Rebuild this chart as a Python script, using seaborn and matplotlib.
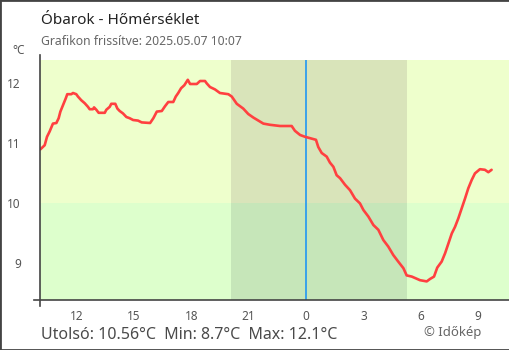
import matplotlib
matplotlib.use("Agg")
import matplotlib.pyplot as plt
from matplotlib.patches import Rectangle
import seaborn as sns
import pandas as pd

# Hours relative to midnight and measured temperature (°C)
hours = [-13.89, -13.66, -13.54, -13.40, -13.23, -13.05, -12.93, -12.84, -12.70, -12.56,
         -12.48, -12.27, -12.18, -12.01, -11.92, -11.75, -11.57, -11.40, -11.31, -11.14,
         -11.08, -10.96, -10.84, -10.52, -10.44, -10.26, -10.18, -9.97, -9.86, -9.74,
         -9.57, -9.39, -9.22, -9.04, -8.78, -8.59, -8.15, -7.98, -7.80, -7.54,
         -7.37, -7.20, -6.94, -6.81, -6.68, -6.53, -6.36, -6.18, -6.06, -5.71,
         -5.54, -5.28, -5.19, -5.02, -4.76, -4.50, -4.06, -3.88, -3.75, -3.62,
         -3.28, -3.02, -2.75, -2.49, -2.23, -1.88, -1.36, -0.75, -0.58, -0.31,
         -0.05, 0.52, 0.64, 0.82, 1.08, 1.25, 1.43, 1.60, 1.78, 2.04,
         2.30, 2.56, 2.82, 3.00, 3.26, 3.52, 3.78, 4.04, 4.30, 4.56,
         4.82, 5.09, 5.26, 5.53, 5.96, 6.31, 6.48, 6.69, 6.86, 7.09,
         7.27, 7.44, 7.62, 7.79, 7.96, 8.14, 8.31, 8.48, 8.66, 8.83,
         9.09, 9.35, 9.53, 9.70]
temps = [10.90, 10.97, 11.11, 11.20, 11.33, 11.34, 11.42, 11.53, 11.64, 11.75,
         11.82, 11.82, 11.84, 11.82, 11.78, 11.72, 11.67, 11.61, 11.57, 11.57,
         11.60, 11.56, 11.51, 11.51, 11.56, 11.61, 11.66, 11.66, 11.58, 11.54,
         11.50, 11.44, 11.42, 11.39, 11.38, 11.35, 11.34, 11.42, 11.53, 11.54,
         11.62, 11.69, 11.69, 11.78, 11.84, 11.92, 11.97, 12.06, 11.99, 11.99,
         12.04, 12.04, 12.00, 11.94, 11.90, 11.84, 11.82, 11.78, 11.72, 11.66,
         11.58, 11.49, 11.43, 11.38, 11.33, 11.31, 11.29, 11.29, 11.21, 11.14,
         11.11, 11.06, 10.94, 10.84, 10.78, 10.68, 10.61, 10.47, 10.42, 10.31,
         10.22, 10.08, 10.00, 9.89, 9.78, 9.64, 9.56, 9.39, 9.28, 9.14,
         9.03, 8.92, 8.80, 8.78, 8.72, 8.70, 8.74, 8.78, 8.93, 9.03,
         9.17, 9.33, 9.50, 9.61, 9.75, 9.92, 10.08, 10.25, 10.39, 10.50,
         10.57, 10.56, 10.52, 10.56]

tick_hours = [-12, -9, -6, -3, 0, 3, 6, 9]
tick_labels = ["12", "15", "18", "21", "0", "3", "6", "9"]
y_ticks = [9, 10, 11, 12]

sunset, sunrise = -3.92, 5.28
x_min, x_max = -13.89, 10.61
y_min, y_max = 8.39, 12.39
threshold = 10

sns.set_theme(style="white")
plt.rcParams["font.family"] = ["Noto Sans", "DejaVu Sans"]

fig = plt.figure(figsize=(5.1, 3.5), dpi=100)
ax = fig.add_axes([40.3 / 510, 50 / 350, (509 - 40.3) / 510, 240 / 350])
ax.set_xlim(x_min, x_max)
ax.set_ylim(y_min, y_max)

# Background bands: warm / cool halves, darker for night hours
ax.fill_between([x_min, x_max], threshold, y_max, color="#eeffcc", lw=0, zorder=0)
ax.fill_between([x_min, x_max], y_min, threshold, color="#ddffcc", lw=0, zorder=0)
ax.fill_between([sunset, sunrise], threshold, y_max, color="#d9e4ba", lw=0, zorder=0.5)
ax.fill_between([sunset, sunrise], y_min, threshold, color="#c6e6b9", lw=0, zorder=0.5)

ax.axvline(0, color="#2196f3", lw=1.2, zorder=1)

df = pd.DataFrame({"hour": hours, "temp": temps})
sns.lineplot(data=df, x="hour", y="temp", color="#ff4040", lw=1.9, ax=ax, zorder=2)

ax.set_xlabel("")
ax.set_ylabel("")
ax.set_xticks(tick_hours)
ax.set_xticklabels(tick_labels)
ax.set_yticks(y_ticks)
ax.set_yticklabels([str(v) for v in y_ticks])

for side in ("top", "right"):
    ax.spines[side].set_visible(False)
for side in ("left", "bottom"):
    ax.spines[side].set_color("#444444")
    ax.spines[side].set_linewidth(1.2)
ax.spines["left"].set_bounds(y_min - 6 / 60, y_max + 5 / 60)
ax.spines["bottom"].set_bounds(x_min - 6.3 / 19.13, x_max)

ax.tick_params(axis="both", direction="inout", length=12, width=1.2,
               color="#444444", labelcolor="#555555", labelsize=8.5)
ax.tick_params(axis="x", pad=1)
ax.tick_params(axis="y", pad=8)

fig.text(41 / 510, 1 - 24 / 350, "Óbarok - Hőmérséklet", fontsize=11,
         color="#222222", ha="left", va="baseline")
fig.text(41 / 510, 1 - 45 / 350, "Grafikon frissítve: 2025.05.07 10:07", fontsize=8.8,
         color="#666666", ha="left", va="baseline")
fig.text(12 / 510, 1 - 54 / 350, "°C", fontsize=8.5, color="#555555",
         ha="left", va="baseline")

last_t = temps[-1]
summary = f"Utolsó: {last_t:.2f}°C  Min: {min(temps):.1f}°C  Max: {max(temps):.1f}°C"
fig.text(41 / 510, 1 - 339 / 350, summary, fontsize=11.5, color="#4a4a4a",
         ha="left", va="baseline")
fig.text(481 / 510, 1 - 336 / 350, "© Időkép", fontsize=9.5, color="#666666",
         ha="right", va="baseline")

fig.patches.append(Rectangle((0, 0), 1, 1, transform=fig.transFigure, fill=False,
                             edgecolor="#444444", lw=2, figure=fig))

fig.savefig("out.png", dpi=100)
